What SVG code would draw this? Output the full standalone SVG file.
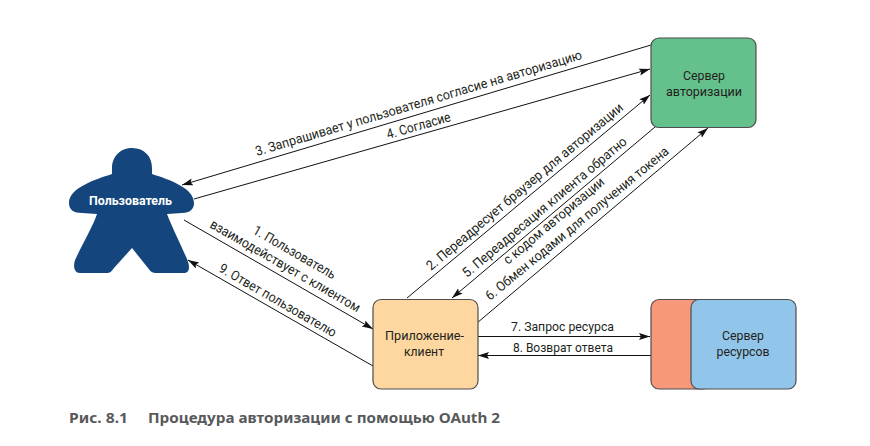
<svg xmlns="http://www.w3.org/2000/svg" width="870" height="446" viewBox="0 0 870 446">
<style>
text{font-family:Roboto,"Noto Sans","Liberation Sans",sans-serif;font-size:13.5px;fill:#231f20}
.b{stroke:#4d4d4f;stroke-width:1.2}
.l{fill:none;stroke:#111;stroke-width:1;marker-end:url(#a)}
.k{font-weight:700}
.cap{font-family:"Noto Sans","Liberation Sans",sans-serif;font-weight:700;font-size:13.5px;fill:#58595b}
</style>
<defs>
<marker id="a" markerUnits="userSpaceOnUse" markerWidth="12" markerHeight="8" refX="11" refY="3.5" orient="auto"><path d="M0 0L11 3.5L0 7L2 3.5Z" fill="#111"/></marker>
</defs>
<rect width="870" height="446" fill="#fff"/>
<g id="connectors">
<path class="l" d="M651 45L182 185"/>
<path class="l" d="M194 199L650 69"/>
<path class="l" d="M407 298L650 95"/>
<path class="l" d="M655 127L452 298"/>
<path class="l" d="M477 323L708 128"/>
<path class="l" d="M184 220L373 329"/>
<path class="l" d="M373 366L188 260"/>
<path class="l" d="M478 336.5L650 336.5"/>
<path class="l" d="M651 355.5L478 355.5"/>
</g>
<g id="connector-labels">
<text transform="translate(257 156) rotate(-16.6)" textLength="340" lengthAdjust="spacingAndGlyphs">3. Запрашивает у пользователя согласие на авторизацию</text>
<text transform="translate(388 139) rotate(-15.9)" textLength="66" lengthAdjust="spacingAndGlyphs">4. Согласие</text>
<text transform="translate(431 271) rotate(-40)" textLength="252" lengthAdjust="spacingAndGlyphs">2. Переадресует браузер для авторизации</text>
<text transform="translate(467 278) rotate(-40)" textLength="210" lengthAdjust="spacingAndGlyphs">5. Переадресация клиента обратно</text>
<text transform="translate(508 265) rotate(-40)" textLength="127" lengthAdjust="spacingAndGlyphs">с кодом авторизации</text>
<text transform="translate(490 301) rotate(-39.5)" textLength="233" lengthAdjust="spacingAndGlyphs">6. Обмен кодами для получения токена</text>
<text transform="translate(252 233) rotate(30)" textLength="93" lengthAdjust="spacingAndGlyphs">1. Пользователь</text>
<text transform="translate(209 227) rotate(30)" textLength="171" lengthAdjust="spacingAndGlyphs">взаимодействует с клиентом</text>
<text transform="translate(218 271) rotate(30)" textLength="133" lengthAdjust="spacingAndGlyphs">9. Ответ пользователю</text>
<text x="511" y="331" textLength="103" lengthAdjust="spacingAndGlyphs">7. Запрос ресурса</text>
<text x="513" y="352" textLength="100" lengthAdjust="spacingAndGlyphs">8. Возврат ответа</text>
</g>
<g id="user">
<path fill="#14457c" d="M132 148C119 148 112 158 112 168C112 171 112 173 112 174C94 180 69 188 69 203C69 210 74 213 82 213L97 214C93 226 84 241 76 258C73 264 73 273 80 273L107 273C110 273 112 271 114 268L132 248L148 268C150 271 152 273 157 273L184 273C190 273 190 266 187 259C180 243 172 227 167 214L182 213C190 213 194 209 194 203C194 188 170 180 152 174C152 172 152 170 152 168C152 157 145 148 132 148Z"/>
<text class="k" x="89" y="205" textLength="83" lengthAdjust="spacingAndGlyphs" style="fill:#fff">Пользователь</text>
</g>
<g id="auth-server">
<rect class="b" x="651" y="38" width="105" height="89.500" rx="8" fill="#65c18c"/>
<text x="683" y="80" textLength="42" lengthAdjust="spacingAndGlyphs">Сервер</text>
<text x="666" y="96" textLength="76" lengthAdjust="spacingAndGlyphs">авторизации</text>
</g>
<g id="client">
<rect class="b" x="373" y="299.500" width="105" height="89.500" rx="8" fill="#fdd79f"/>
<text x="385" y="340" textLength="79" lengthAdjust="spacingAndGlyphs">Приложение-</text>
<text x="404" y="356" textLength="40" lengthAdjust="spacingAndGlyphs">клиент</text>
</g>
<g id="resource-server">
<rect class="b" x="651" y="299.500" width="60" height="89.500" rx="8" fill="#f6987a"/>
<rect class="b" x="691" y="299.500" width="105" height="89.500" rx="8" fill="#91c5ea"/>
<text x="722" y="340" textLength="42" lengthAdjust="spacingAndGlyphs">Сервер</text>
<text x="716.500" y="356" textLength="53" lengthAdjust="spacingAndGlyphs">ресурсов</text>
</g>
<g id="caption">
<text class="cap" x="69" y="423" textLength="59" lengthAdjust="spacingAndGlyphs">Рис. 8.1</text>
<text class="cap" x="148" y="423" textLength="352" lengthAdjust="spacingAndGlyphs">Процедура авторизации с помощью OAuth 2</text>
</g>
</svg>
